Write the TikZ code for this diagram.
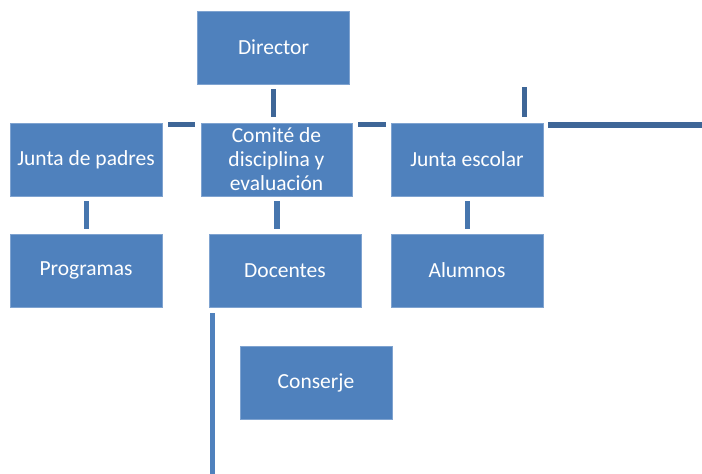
\documentclass[tikz,border=0pt]{standalone}
\usepackage{fontspec}
\setmainfont{Carlito}
\definecolor{boxblue}{HTML}{4F81BD}
\definecolor{boxedge}{HTML}{7FA3D0}
\definecolor{linedark}{HTML}{3E6697}
\definecolor{linemid}{HTML}{4776AE}
\begin{document}
\begin{tikzpicture}[x=1pt,y=-1pt,
  orgbox/.style={rectangle, fill=boxblue, draw=boxedge, line width=0.6pt,
    minimum width=152pt, minimum height=73pt, inner sep=2pt,
    text=white, font=\fontsize{21.5}{24}\selectfont, align=center},
  darkbar/.style={draw=linedark, line width=5.5pt},
  midbar/.style={draw=linemid, line width=5.5pt},
  lightbar/.style={draw=boxblue, line width=5pt}]
\useasboundingbox (0,0) rectangle (702,474);
\node[orgbox] (director) at (273.5,47.5) {Director};
\node[orgbox] (padres) at (86,159.5) {Junta de padres};
\node[orgbox, minimum width=151pt] (comite) at (276.5,159.5) {Comité de\\disciplina y\\evaluación};
\node[orgbox] (escolar) at (467,159.5) {Junta escolar};
\node[orgbox] (programas) at (86,270.5) {Programas};
\node[orgbox] (docentes) at (285,270.5) {Docentes};
\node[orgbox] (alumnos) at (467,270.5) {Alumnos};
\node[orgbox] (conserje) at (316,382.5) {Conserje};
% connector ends
\coordinate (d1) at (273.5,89);  \coordinate (d2) at (273.5,117);
\coordinate (h1a) at (168,124.5); \coordinate (h1b) at (195,124.5);
\coordinate (h2a) at (358,124.5); \coordinate (h2b) at (386,124.5);
\coordinate (e1) at (524.5,87);  \coordinate (e2) at (524.5,117);
\coordinate (l1) at (548,125);   \coordinate (l2) at (702,125);
\coordinate (p1) at (86.5,201);  \coordinate (p2) at (86.5,229);
\coordinate (c1) at (277,201);   \coordinate (c2) at (277,229);
\coordinate (s1) at (467.5,201); \coordinate (s2) at (467.5,229);
\coordinate (v1) at (212.5,313); \coordinate (v2) at (212.5,474);
\draw[darkbar] (d1) -- (d2);
\draw[darkbar, line width=5pt] (h1a) -- (h1b);
\draw[darkbar, line width=5pt] (h2a) -- (h2b);
\draw[darkbar, line width=5pt] (e1) -- (e2);
\draw[darkbar] (l1) -- (l2);
\draw[midbar] (p1) -- (p2);
\draw[midbar] (c1) -- (c2);
\draw[midbar] (s1) -- (s2);
\draw[lightbar] (v1) -- (v2);
\end{tikzpicture}
\end{document}
